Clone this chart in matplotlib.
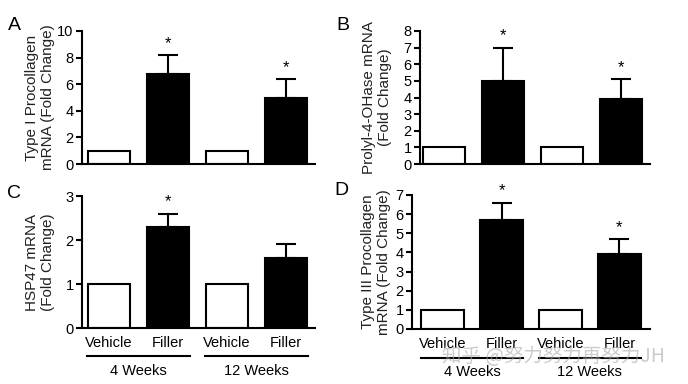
import matplotlib
matplotlib.use("Agg")
import matplotlib.pyplot as plt
import matplotlib.transforms as mtransforms
import numpy as np

plt.rcParams['font.family'] = ['Liberation Sans', 'DejaVu Sans']
plt.rcParams['font.size'] = 10.5

groups = ["Vehicle", "Filler", "Vehicle", "Filler"]
periods = ["4 Weeks", "12 Weeks"]

type1_mean = [1.0, 6.8, 1.0, 5.0]
type1_err = [0.0, 1.4, 0.0, 1.4]
type1_sig = [False, True, False, True]

p4h_mean = [1.0, 5.0, 1.0, 3.9]
p4h_err = [0.0, 2.0, 0.0, 1.2]
p4h_sig = [False, True, False, True]

hsp47_mean = [1.0, 2.3, 1.0, 1.6]
hsp47_err = [0.0, 0.3, 0.0, 0.3]
hsp47_sig = [False, True, False, False]

type3_mean = [1.0, 5.7, 1.0, 3.9]
type3_err = [0.0, 0.9, 0.0, 0.8]
type3_sig = [False, True, False, True]

W, H = 688, 384
fig = plt.figure(figsize=(W / 100, H / 100), dpi=100)


def px_axes(left, right, top, bottom):
    return fig.add_axes([left / W, (H - bottom) / H, (right - left) / W, (bottom - top) / H])


def panel(ax, means, errs, sig, ymax, yticks, xlim, letter, label, lab_x, letter_xy):
    x = np.arange(len(means))
    colors = ['white', 'black', 'white', 'black']
    ax.bar(x, means, width=0.72, color=colors, edgecolor='black', linewidth=1.5, zorder=2)
    for xi, m, e in zip(x, means, errs):
        if e > 0:
            ax.errorbar(xi, m, yerr=[[0], [e]], fmt='none', ecolor='black',
                        elinewidth=1.5, capsize=7.5, capthick=1.5, zorder=1)
    for xi, m, e, s in zip(x, means, errs, sig):
        if s:
            ax.annotate('*', (xi, m + e), xytext=(0, 3), textcoords='offset points',
                        ha='center', va='bottom', fontsize=12)
    ax.set_ylim(0, ymax)
    ax.set_yticks(yticks)
    ax.set_xlim(*xlim)
    ax.set_xticks([])
    for s in ['top', 'right']:
        ax.spines[s].set_visible(False)
    for s in ['left', 'bottom']:
        ax.spines[s].set_linewidth(1.5)
    ax.tick_params(axis='y', direction='out', length=4, width=1.5, pad=2, labelsize=10.5)
    bb = ax.get_position()
    fig.text(lab_x / W, bb.y0 + bb.height / 2, label, rotation=90, ha='center',
             va='center', fontsize=11, linespacing=1.1, color='#222222')
    fig.text(letter_xy[0] / W, 1 - letter_xy[1] / H, letter, ha='center', va='center',
             fontsize=14)


axA = px_axes(82, 315, 31, 164)
panel(axA, type1_mean, type1_err, type1_sig, 10, range(0, 11, 2), (-0.46, 3.49), 'A',
      'Type I Procollagen\nmRNA (Fold Change)', 40, (14, 25))

axB = px_axes(420, 650, 31, 164)
panel(axB, p4h_mean, p4h_err, p4h_sig, 8, range(0, 9), (-0.41, 3.49), 'B',
      'Prolyl-4-OHase mRNA\n(Fold Change)', 377, (343, 25))

axC = px_axes(82, 315, 196, 328)
panel(axC, hsp47_mean, hsp47_err, hsp47_sig, 3, range(0, 4), (-0.46, 3.49), 'C',
      'HSP47 mRNA\n(Fold Change)', 40, (14, 194))

axD = px_axes(412, 650, 195, 329)
panel(axD, type3_mean, type3_err, type3_sig, 7, range(0, 8), (-0.52, 3.52), 'D',
      'Type III Procollagen\nmRNA (Fold Change)', 376, (341, 190))

# group labels and period underlines below the lower panels
for ax in (axC, axD):
    trans = mtransforms.blended_transform_factory(ax.transData, ax.transAxes)
    for xi, g in enumerate(groups):
        ax.annotate(g, (xi, 0), xycoords=trans, xytext=(0, -11), textcoords='offset points',
                    ha='center', va='center', fontsize=10.5)
    for k, p in enumerate(periods):
        x0, x1 = 2 * k - 0.37, 2 * k + 1 + 0.37
        ax.plot([x0, x1], [-0.215, -0.215], transform=trans, color='black', lw=1.5,
                clip_on=False)
        ax.annotate(p, ((x0 + x1) / 2, 0), xycoords=trans, xytext=(0, -31),
                    textcoords='offset points', ha='center', va='center', fontsize=10.5)

fig.text(553 / W, 1 - 356 / H, '知乎 @努力努力再努力JH', ha='center', va='center',
         fontsize=14, color='#aaaaaa', alpha=0.6,
         family=['Noto Sans CJK SC', 'DejaVu Sans'])

fig.savefig('out.png', dpi=100)
